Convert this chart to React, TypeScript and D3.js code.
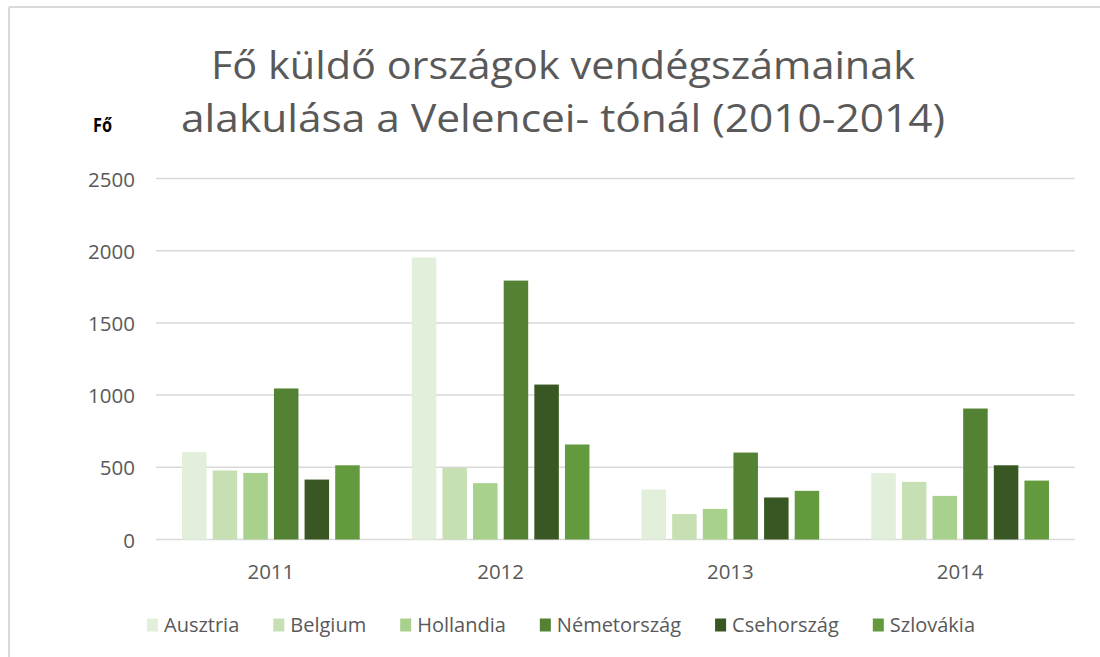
import React, { useEffect, useRef } from "react";
import * as d3 from "d3";

const years = ["2011", "2012", "2013", "2014"];
const countries = ["Ausztria", "Belgium", "Hollandia", "Németország", "Csehország", "Szlovákia"];
const ausztria = [605, 1953, 346, 459];
const belgium = [478, 496, 177, 399];
const hollandia = [461, 390, 212, 302];
const nemetorszag = [1046, 1793, 602, 907];
const csehorszag = [415, 1073, 291, 514];
const szlovakia = [514, 658, 337, 408];
const seriesValues = [ausztria, belgium, hollandia, nemetorszag, csehorszag, szlovakia];
const yTicks = [0, 500, 1000, 1500, 2000, 2500];
const colors = ["#e2efda", "#c6e0b4", "#a9d18e", "#548235", "#385723", "#639a3e"];
const titleLines = ["Fő küldő országok vendégszámainak", "alakulása a Velencei- tónál (2010-2014)"];
const yLabel = "Fő";

const W = 1100;
const H = 657;
const FONT = "'Open Sans', 'Noto Sans', sans-serif";

export default function App() {
  const ref = useRef<SVGSVGElement | null>(null);

  useEffect(() => {
    document.documentElement.style.overflow = "hidden";
    document.body.style.overflow = "hidden";
    const svg = d3.select(ref.current);
    svg.selectAll("*").remove();

    // chart border (only top and left visible in the crop)
    svg.append("line").attr("x1", 9).attr("x2", W).attr("y1", 7).attr("y2", 7)
      .attr("stroke", "#d9d9d9").attr("stroke-width", 2);
    svg.append("line").attr("x1", 9).attr("x2", 9).attr("y1", 7).attr("y2", H)
      .attr("stroke", "#d9d9d9").attr("stroke-width", 2);

    const x0 = d3.scaleBand<string>().domain(years).range([156, 1075]).paddingInner(0.2).paddingOuter(0.1);
    const x1 = d3.scaleBand<string>().domain(countries).range([0, x0.bandwidth()]).paddingInner(0.2).paddingOuter(0.1);
    const y = d3.scaleLinear().domain([0, 2500]).range([539.5, 178.5]);

    // gridlines
    svg.append("g").selectAll("line").data(yTicks).join("line")
      .attr("x1", 156).attr("x2", 1075)
      .attr("y1", (d) => y(d)).attr("y2", (d) => y(d))
      .attr("stroke", "#d9d9d9").attr("stroke-width", 1.5);

    // y tick labels
    svg.append("g").selectAll("text").data(yTicks).join("text")
      .attr("x", 135).attr("y", (d) => y(d))
      .attr("text-anchor", "end").attr("dominant-baseline", "central")
      .attr("font-family", FONT).attr("font-size", 20.5).attr("fill", "#595959")
      .text((d) => String(d));

    // bars
    const groups = svg.append("g").selectAll("g").data(years).join("g")
      .attr("transform", (d) => `translate(${x0(d)},0)`);
    groups.selectAll("rect")
      .data((yr) => countries.map((c, k) => ({ c, k, v: seriesValues[k][years.indexOf(yr)] })))
      .join("rect")
      .attr("x", (d) => x1(d.c) as number)
      .attr("width", x1.bandwidth())
      .attr("y", (d) => y(d.v))
      .attr("height", (d) => y(0) - y(d.v))
      .attr("fill", (d) => colors[d.k]);

    // x labels
    svg.append("g").selectAll("text").data(years).join("text")
      .attr("x", (d) => (x0(d) as number) + x0.bandwidth() / 2)
      .attr("y", 579)
      .attr("text-anchor", "middle")
      .attr("font-family", FONT).attr("font-size", 20.5).attr("fill", "#595959")
      .text((d) => d);

    // title
    const titleLens = [704, 764];
    svg.append("g").selectAll("text").data(titleLines).join("text")
      .attr("x", 563).attr("y", (d, i) => 79 + i * 53)
      .attr("text-anchor", "middle")
      .attr("font-family", FONT).attr("font-size", 38).attr("fill", "#595959")
      .attr("textLength", (d, i) => titleLens[i]).attr("lengthAdjust", "spacingAndGlyphs")
      .text((d) => d);

    // y axis label
    svg.append("text")
      .attr("x", 93).attr("y", 132)
      .attr("font-family", FONT).attr("font-size", 20).attr("font-weight", "bold").attr("fill", "#000")
      .attr("textLength", 19).attr("lengthAdjust", "spacingAndGlyphs")
      .text(yLabel);

    // legend
    const lg = svg.append("g");
    const items = lg.selectAll("g").data(countries).join("g");
    items.append("rect").attr("x", 0).attr("y", 618.5).attr("width", 11).attr("height", 13)
      .attr("fill", (d, i) => colors[i]);
    items.append("text").attr("x", 17).attr("y", 632)
      .attr("font-family", FONT).attr("font-size", 20).attr("fill", "#595959")
      .text((d) => d);
    let cx = 0;
    const offsets: number[] = [];
    items.each(function () {
      const t = d3.select(this).select("text").node() as SVGTextElement;
      offsets.push(cx);
      cx += 17 + t.getComputedTextLength() + 34;
    });
    const total = cx - 34;
    const start = 561 - total / 2;
    items.attr("transform", (d, i) => `translate(${start + offsets[i]},0)`);
  }, []);

  return (
    <svg ref={ref} width={W} height={H} style={{ position: "absolute", left: 0, top: 0, background: "#fff" }} />
  );
}
